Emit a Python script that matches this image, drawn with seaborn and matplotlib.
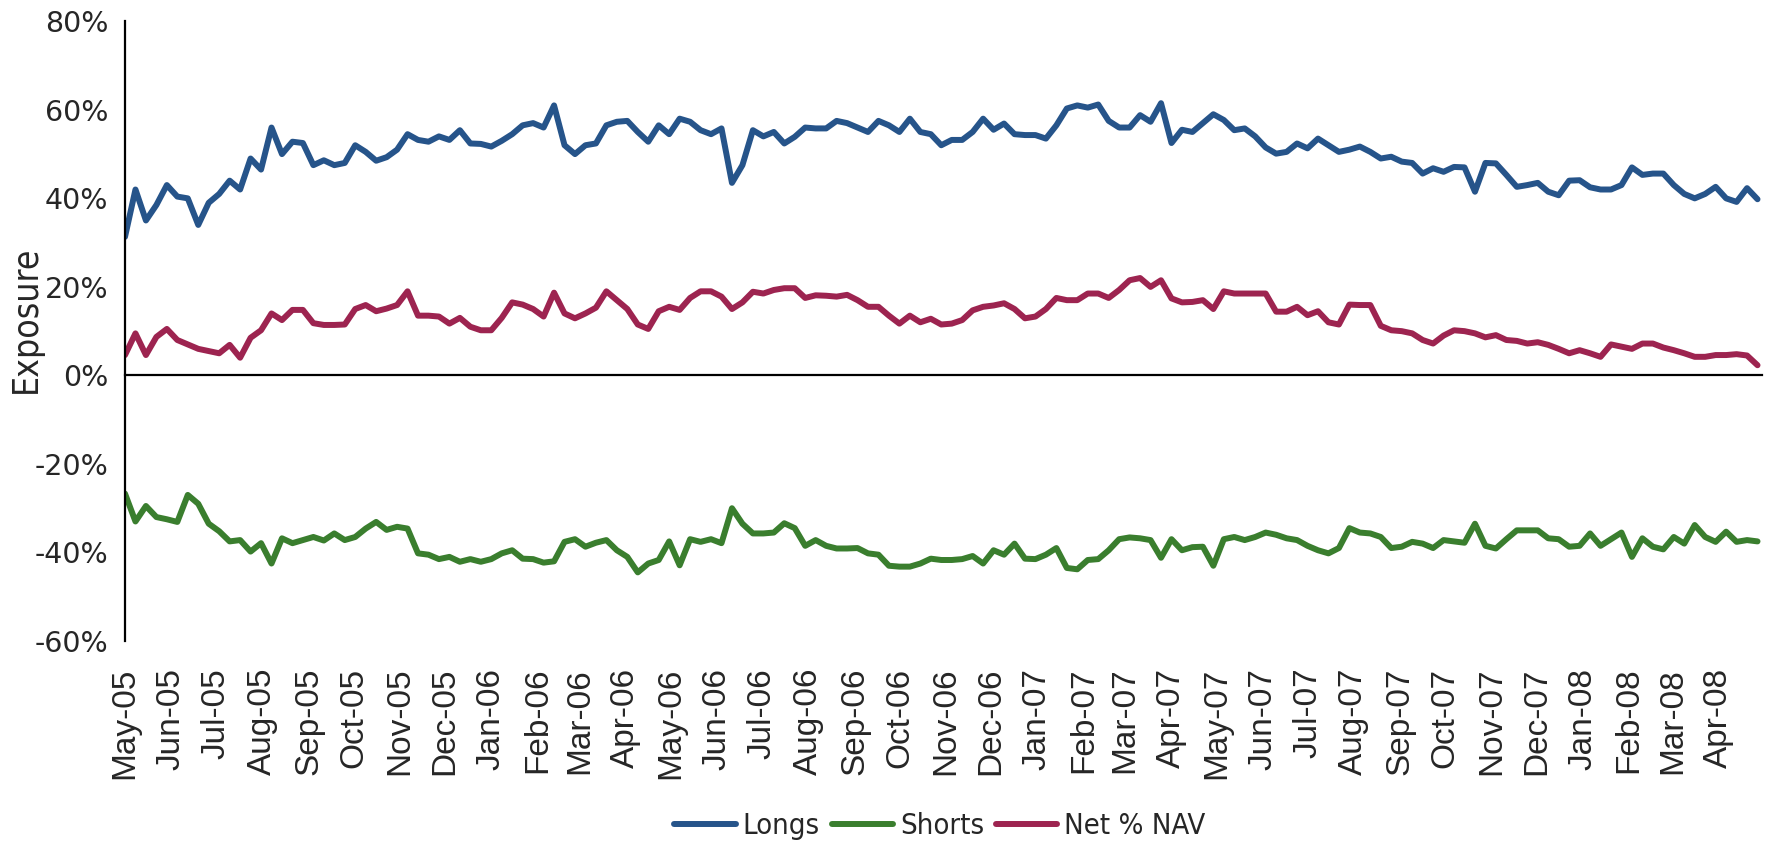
import numpy as np
import pandas as pd
import matplotlib
matplotlib.use("Agg")
import matplotlib.pyplot as plt
import matplotlib.dates as mdates
from matplotlib.ticker import FuncFormatter
import seaborn as sns

# weekly readings, % of NAV, starting 1 May 2005
longs = [31.3, 42, 35, 38.5, 43, 40.4, 40, 34, 39, 41,
         44, 42, 49, 46.5, 56, 50, 52.8, 52.5, 47.5, 48.6,
         47.5, 48, 52, 50.5, 48.5, 49.3, 51, 54.5, 53.2, 52.8,
         54, 53.2, 55.4, 52.4, 52.3, 51.7, 53, 54.5, 56.5, 57,
         56, 61, 52, 50, 52, 52.4, 56.5, 57.3, 57.5, 55,
         52.8, 56.5, 54.5, 58, 57.3, 55.4, 54.5, 55.8, 43.5, 47.5,
         55.4, 54, 55, 52.4, 53.9, 56, 55.8, 55.8, 57.5, 57,
         56, 55, 57.5, 56.5, 55, 58, 55, 54.5, 52, 53.2,
         53.2, 55, 58, 55.5, 56.9, 54.5, 54.3, 54.3, 53.5, 56.5,
         60.3, 61, 60.5, 61.2, 57.5, 56, 56, 58.8, 57.3, 61.5,
         52.5, 55.5, 55, 57, 59, 57.7, 55.4, 55.8, 54, 51.5,
         50.1, 50.5, 52.4, 51.3, 53.5, 52, 50.5, 51, 51.7, 50.5,
         49, 49.4, 48.3, 48, 45.6, 46.8, 46, 47.1, 47, 41.5,
         48, 47.9, 45.3, 42.6, 43, 43.5, 41.5, 40.7, 44, 44.1,
         42.5, 42, 42, 43, 47, 45.3, 45.6, 45.6, 43, 41,
         40, 41, 42.6, 40, 39.2, 42.3, 39.8]

shorts = [-26.7, -33, -29.5, -32, -32.5, -33.1, -27, -29, -33.5, -35.2,
          -37.5, -37.2, -39.8, -37.9, -42.5, -36.8, -37.9, -37.2, -36.5, -37.3,
          -35.7, -37.2, -36.5, -34.6, -33.1, -34.9, -34.2, -34.6, -40.2, -40.5,
          -41.5, -41, -42.1, -41.5, -42.1, -41.5, -40.2, -39.5, -41.4, -41.5,
          -42.3, -42, -37.6, -37, -38.7, -37.8, -37.2, -39.5, -41, -44.5,
          -42.5, -41.7, -37.5, -42.9, -37, -37.6, -37, -37.9, -30, -33.5,
          -35.7, -35.7, -35.5, -33.4, -34.5, -38.5, -37.2, -38.5, -39.1, -39.1,
          -39, -40.2, -40.5, -43, -43.2, -43.2, -42.5, -41.4, -41.7, -41.7,
          -41.5, -40.8, -42.5, -39.5, -40.5, -38, -41.4, -41.5, -40.5, -39,
          -43.5, -43.8, -41.7, -41.5, -39.5, -37, -36.6, -36.8, -37.2, -41.2,
          -37, -39.5, -38.8, -38.7, -43, -37, -36.5, -37.2, -36.5, -35.5,
          -36, -36.8, -37.2, -38.5, -39.5, -40.2, -39, -34.5, -35.5, -35.7,
          -36.5, -39, -38.7, -37.6, -38, -39, -37.2, -37.5, -37.8, -33.5,
          -38.5, -39.1, -37, -35, -35, -35, -36.8, -37, -38.7, -38.5,
          -35.7, -38.5, -37, -35.5, -41, -36.8, -38.7, -39.3, -36.5, -38,
          -33.8, -36.5, -37.6, -35.3, -37.6, -37.2, -37.5]

net = [4.6, 9.5, 4.6, 8.7, 10.5, 8, 7, 6, 5.5, 5,
       6.9, 4, 8.5, 10.2, 14, 12.5, 14.8, 14.8, 11.8, 11.4,
       11.4, 11.5, 15, 15.9, 14.5, 15.1, 15.9, 19, 13.5, 13.5,
       13.3, 11.7, 13, 11, 10.2, 10.2, 13, 16.5, 16, 15,
       13.3, 18.7, 14, 12.9, 14, 15.3, 19, 17, 15, 11.5,
       10.5, 14.5, 15.5, 14.8, 17.5, 19, 19, 17.8, 15, 16.5,
       18.9, 18.5, 19.3, 19.7, 19.7, 17.5, 18.1, 18, 17.8, 18.2,
       17, 15.5, 15.5, 13.5, 11.7, 13.5, 12, 12.8, 11.5, 11.7,
       12.5, 14.7, 15.5, 15.8, 16.3, 15, 12.9, 13.3, 15, 17.5,
       17, 17, 18.5, 18.5, 17.5, 19.3, 21.5, 22, 20, 21.5,
       17.4, 16.5, 16.6, 17, 15, 19, 18.5, 18.5, 18.5, 18.5,
       14.4, 14.4, 15.5, 13.6, 14.5, 12, 11.5, 16, 15.9, 15.9,
       11.2, 10.2, 10, 9.5, 8, 7.2, 9, 10.2, 10, 9.5,
       8.6, 9.1, 8, 7.8, 7.2, 7.5, 6.9, 6, 5, 5.7,
       5, 4.2, 7, 6.5, 6, 7.2, 7.2, 6.3, 5.7, 5,
       4.2, 4.2, 4.6, 4.6, 4.8, 4.5, 2.3]

series_names = ["Longs", "Shorts", "Net % NAV"]
colors = ["#26548A", "#3A7E2E", "#9D2450"]

dates = pd.date_range("2005-05-01", periods=len(longs), freq="7D")
df = pd.DataFrame({"date": dates, "Longs": longs, "Shorts": shorts, "Net % NAV": net})
df = df.melt("date", var_name="series", value_name="exposure")

sns.set_style("white")
plt.rcParams["font.family"] = ["Liberation Sans", "DejaVu Sans"]

W, H = 1776, 842
fig = plt.figure(figsize=(W / 100, H / 100), dpi=100)
ax = fig.add_axes([125 / W, 1 - 641 / H, (1762 - 125) / W, (641 - 21.3) / H])

sns.lineplot(data=df, x="date", y="exposure", hue="series", hue_order=series_names,
             palette=colors, linewidth=4.3, ax=ax, legend=False)
for ln in ax.get_lines():
    ln.set_solid_joinstyle("round")
    ln.set_solid_capstyle("round")

ax.set_ylim(-60, 80)
ax.set_yticks(range(-60, 81, 20))
ax.yaxis.set_major_formatter(FuncFormatter(lambda v, p: f"{v:.0f}%"))
ax.set_xlim(pd.Timestamp("2005-05-01"), pd.Timestamp("2008-04-30"))
ax.xaxis.set_major_locator(mdates.MonthLocator())
ax.xaxis.set_major_formatter(mdates.DateFormatter("%b-%y"))

for s in ["top", "right"]:
    ax.spines[s].set_visible(False)
ax.spines["bottom"].set_position(("data", 0))
for s in ["left", "bottom"]:
    ax.spines[s].set_color("black")
    ax.spines[s].set_linewidth(1.6)

ax.tick_params(axis="x", direction="out", length=7.5, width=1.6, color="black",
               labelsize=24, labelrotation=90, pad=203)
ax.tick_params(axis="y", direction="out", length=8, width=1.6, color="black",
               labelsize=20.5, pad=4)
for lab in ax.get_yticklabels():
    lab.set_family(["DejaVu Sans"])

ax.set_xlabel("")
ax.set_ylabel("Exposure", fontsize=25.5, family=["DejaVu Sans"], stretch="condensed")
ax.yaxis.set_label_coords(-0.05, 0.52)

handles = ax.get_lines()[:3]
fig.legend(handles, series_names, loc="center", bbox_to_anchor=(940 / W, 1 - 826 / H),
           ncol=3, frameon=False,
           prop={"family": ["DejaVu Sans"], "stretch": "condensed", "size": 21},
           handlelength=2.1, handletextpad=0.25, columnspacing=0.4)

fig.savefig("out.png", dpi=100)
